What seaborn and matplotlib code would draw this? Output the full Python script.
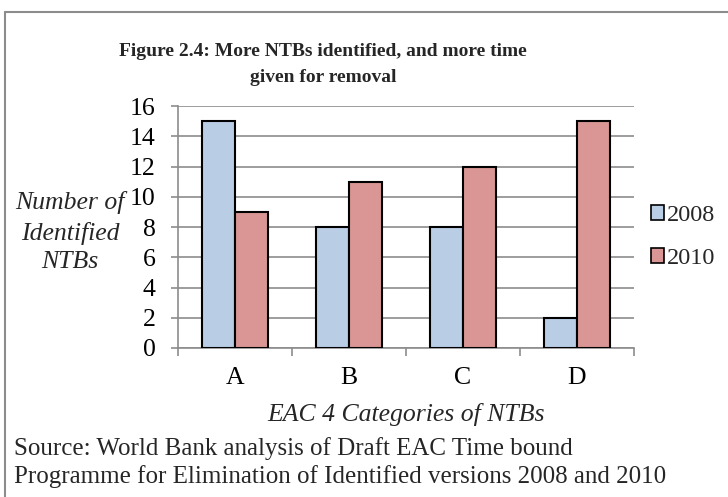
import matplotlib
matplotlib.use("Agg")
import matplotlib.pyplot as plt
import seaborn as sns
import pandas as pd
from matplotlib.patches import Patch
from matplotlib.lines import Line2D

categories = ["A", "B", "C", "D"]
years = ["2008", "2010"]
values_2008 = [15, 8, 8, 2]
values_2010 = [9, 11, 12, 15]
y_ticks = [0, 2, 4, 6, 8, 10, 12, 14, 16]

colors = {"2008": "#B9CDE5", "2010": "#D99694"}

df = pd.DataFrame({
    "category": categories * 2,
    "year": ["2008"] * 4 + ["2010"] * 4,
    "count": values_2008 + values_2010,
})

sns.set_theme(style="white")
plt.rcParams["font.family"] = ["Liberation Serif", "DejaVu Serif"]

W, H = 728, 497
FS = 18.5
fig = plt.figure(figsize=(W / 100, H / 100), dpi=100)


def fx(px):
    return px / W


def fy(py):
    return 1 - py / H


# outer frame (left and top edges visible)
fig.add_artist(Line2D([fx(5), fx(5)], [0, fy(12)], color="#8c8c8c", lw=1.5,
                      transform=fig.transFigure))
fig.add_artist(Line2D([fx(5), 1], [fy(12), fy(12)], color="#8c8c8c", lw=1.5,
                      transform=fig.transFigure))

ax = fig.add_axes([fx(178), fy(348), 456 / W, 242 / H])
sns.barplot(data=df, x="category", y="count", hue="year", hue_order=years,
            palette=colors, saturation=1, width=0.58, edgecolor="black",
            linewidth=1.5, legend=False, ax=ax, zorder=3)

ax.set_ylim(0, 16)
ax.set_xlim(-0.5, 3.5)
ax.set_yticks(y_ticks)
ax.yaxis.grid(True, color="#8c8c8c", lw=1.2, zorder=0)
ax.set_axisbelow(True)
for s in ["top", "right"]:
    ax.spines[s].set_visible(False)
for s in ["left", "bottom"]:
    ax.spines[s].set_color("#8c8c8c")
    ax.spines[s].set_linewidth(1.2)

ax.tick_params(axis="y", which="major", direction="out", length=5, color="#8c8c8c",
               width=1.2, labelsize=FS, pad=11, left=True)
ax.set_xticks(range(len(categories)))
ax.set_xticklabels(categories)
ax.tick_params(axis="x", which="major", length=0, labelsize=FS, pad=14)
ax.set_xticks([-0.5, 0.5, 1.5, 2.5, 3.5], minor=True)
ax.tick_params(axis="x", which="minor", direction="out", length=6, color="#8c8c8c",
               width=1.2, bottom=True)
for lbl in ax.get_yticklabels() + ax.get_xticklabels():
    lbl.set_color("black")

ax.set_xlabel("")
ax.set_ylabel("")

fig.text(fx(406), fy(414), "EAC 4 Categories of NTBs", ha="center", va="center",
         fontsize=FS, style="italic")
for txt, yy in zip(["Number of", "Identified", "NTBs"], [203, 233, 262]):
    fig.text(fx(70), fy(yy), txt, ha="center", va="center", fontsize=FS, style="italic")

fig.text(fx(323), fy(52), "Figure 2.4: More NTBs identified, and more time",
         ha="center", va="center", fontsize=14, fontweight="bold")
fig.text(fx(323), fy(78), "given for removal",
         ha="center", va="center", fontsize=14, fontweight="bold")

fig.text(fx(14), fy(449), "Source: World Bank analysis of Draft EAC Time bound",
         ha="left", va="center", fontsize=18)
fig.text(fx(14), fy(477), "Programme for Elimination of Identified versions 2008 and 2010",
         ha="left", va="center", fontsize=18)

handles = [Patch(facecolor=colors[y], edgecolor="black", linewidth=1.2, label=y) for y in years]
fig.legend(handles=handles, loc="center left", bbox_to_anchor=(fx(651), fy(237)),
           frameon=False, fontsize=17.5, handlelength=0.55, handleheight=0.55,
           handletextpad=0.1, labelspacing=0.9, borderpad=0, borderaxespad=0)

fig.savefig("out.png", dpi=100)
